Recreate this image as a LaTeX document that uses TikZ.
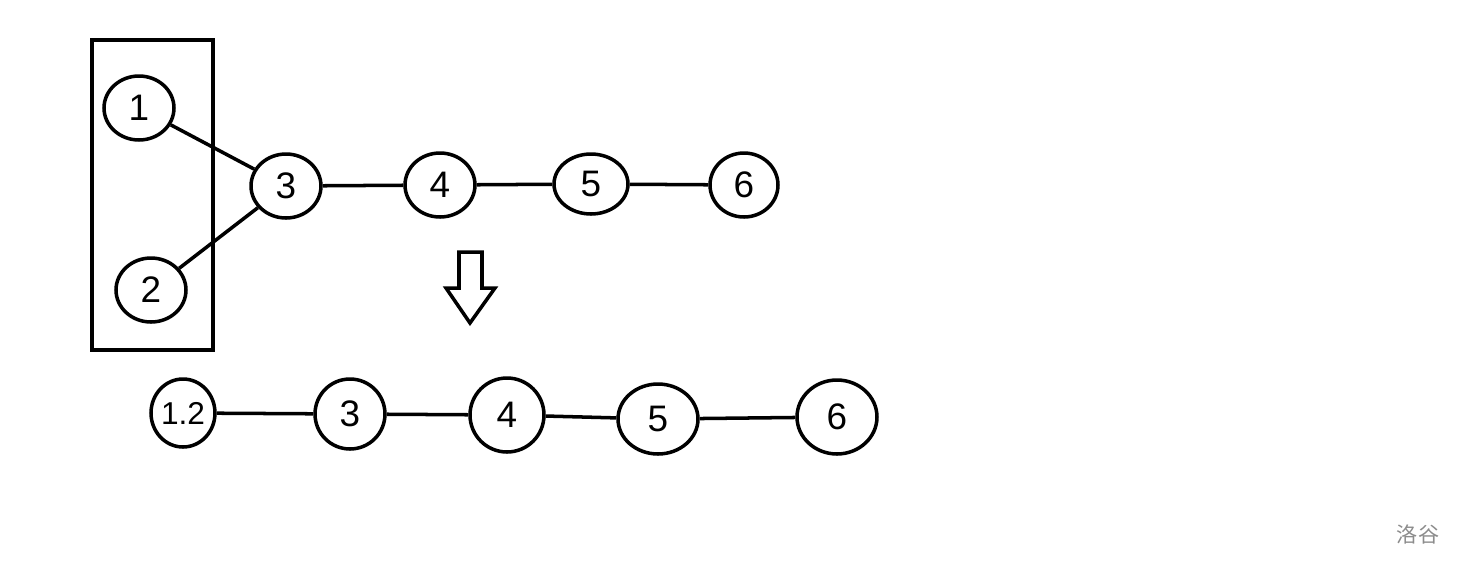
\documentclass[tikz,border=0pt]{standalone}
\usepackage{fontspec}
\setmainfont{Liberation Sans}
\newfontfamily\cjk{Noto Sans CJK SC}
\usetikzlibrary{shapes.geometric}

\begin{document}
\begin{tikzpicture}[
    x=0.02cm, y=-0.02cm,
    vertex/.style={draw, ellipse, line width=2pt, inner sep=0pt, minimum width=1.4cm, minimum height=1.28cm, font=\fontsize{21}{24}\selectfont},
    edge/.style={line width=2pt}
]
\useasboundingbox (0,0) rectangle (1461,566);
% grouped pair
\draw[line width=2.1pt] (92,40) rectangle (213,350);
\node[vertex] (a1) at (139,108) {1};
\node[vertex] (a2) at (151,290) {2};
\node[vertex] (a3) at (286,186) {3};
\node[vertex] (a4) at (440,185) {4};
\node[vertex, minimum width=1.48cm, minimum height=1.2cm] (a5) at (591,184) {5};
\node[vertex, minimum width=1.36cm] (a6) at (744,185) {6};
\draw[edge] (a1) -- (a3);
\draw[edge] (a2) -- (a3);
\draw[edge] (a3) -- (a4);
\draw[edge] (a4) -- (a5);
\draw[edge] (a5) -- (a6);
% hollow arrow
\draw[line width=2pt, line join=miter] (459,252) -- (482,252) -- (482,288) -- (495,288) -- (470,323) -- (446,288) -- (459,288) -- cycle;
% merged chain
\node[vertex, minimum width=1.28cm, minimum height=1.36cm, font=\fontsize{18}{20}\selectfont] (b12) at (183,413) {1.2};
\node[vertex, minimum width=1.4cm, minimum height=1.4cm] (b3) at (350,414) {3};
\node[vertex, minimum width=1.48cm, minimum height=1.48cm] (b4) at (507,415) {4};
\node[vertex, minimum width=1.6cm, minimum height=1.4cm] (b5) at (658,419) {5};
\node[vertex, minimum width=1.6cm, minimum height=1.48cm] (b6) at (837,417) {6};
\draw[edge] (b12) -- (b3);
\draw[edge] (b3) -- (b4);
\draw[edge] (b4) -- (b5);
\draw[edge] (b5) -- (b6);
\node[text=black!45, font=\cjk\fontsize{12}{14}\selectfont] (mark) at (1418,534) {洛谷};
\end{tikzpicture}
\end{document}
